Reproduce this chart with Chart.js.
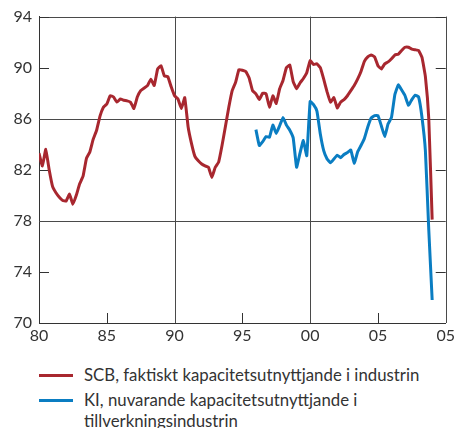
<!DOCTYPE html>
<html>
<head>
<meta charset="utf-8">
<script src="https://cdn.jsdelivr.net/npm/chart.js@4/dist/chart.umd.min.js"></script>
<style>
  html, body { margin: 0; padding: 0; background: #fff; }
  #wrap { position: relative; width: 458px; height: 428px; overflow: hidden; font-family: Lato, "Open Sans", sans-serif; color: #333; }
  #chart { position: absolute; left: 0; top: 0; }
  .sw { position: absolute; left: 39px; width: 34px; height: 3px; }
  .lbl { position: absolute; left: 84px; font-size: 16.8px; line-height: 21px; white-space: nowrap; }
</style>
</head>
<body>
<div id="wrap">
  <canvas id="chart" width="458" height="345"></canvas>
  <div id="legend"></div>
</div>
<script>
// Quarterly capacity utilisation, first quarter of each series given by its start year
const scbStart = 1980;
const scbValues = [
  83.3, 82.3, 83.6, 82.0,
  80.7, 80.2, 79.85, 79.6,
  79.55, 80.1, 79.3, 80.0,
  80.9, 81.5, 82.9, 83.4,
  84.4, 85.1, 86.2, 86.9,
  87.15, 87.8, 87.7, 87.3,
  87.55, 87.45, 87.4, 87.3,
  86.8, 87.7, 88.2, 88.4,
  88.6, 89.1, 88.6, 89.9,
  90.15, 89.35, 89.3, 88.5,
  87.8, 87.55, 86.8, 87.65,
  85.35, 84.05, 83.05, 82.7,
  82.45, 82.3, 82.2, 81.4,
  82.2, 82.6, 83.9, 85.4,
  86.9, 88.2, 88.85, 89.85,
  89.8, 89.7, 89.2, 88.2,
  87.95, 87.5, 88.0, 87.95,
  86.9, 87.8, 87.2, 88.35,
  89.0, 90.0, 90.2, 88.9,
  88.35, 88.8, 89.15, 89.6,
  90.55, 90.25, 90.3, 90.0,
  89.1, 88.1, 87.3, 87.65,
  86.85, 87.3, 87.5, 87.8,
  88.2, 88.6, 89.1, 89.7,
  90.5, 90.85, 91.0, 90.85,
  90.15, 89.9, 90.3, 90.45,
  90.7, 91.0, 91.05, 91.35,
  91.6, 91.6, 91.45, 91.4,
  91.35, 90.8, 89.3, 86.0,
  78.1
];

const kiStart = 1996;
const kiValues = [
  85.15, 83.9, 84.2, 84.6,
  84.55, 85.5, 84.85, 85.45,
  86.1, 85.5, 85.1, 84.5,
  82.2, 83.3, 84.3, 83.1,
  87.35, 87.1, 86.6, 84.8,
  83.5, 82.85, 82.55, 82.85,
  83.15, 82.95, 83.2, 83.35,
  83.55, 82.5, 83.4, 83.9,
  84.45, 85.35, 86.05, 86.25,
  86.25, 85.45, 84.6, 85.6,
  86.1, 87.9, 88.65, 88.25,
  87.8, 87.05, 87.5, 87.85,
  87.7, 86.1, 83.5, 77.3,
  71.8
];

const seriesNames = [
  ['SCB, faktiskt kapacitetsutnyttjande i industrin'],
  ['KI, nuvarande kapacitetsutnyttjande i', 'tillverkningsindustrin']
];
const seriesColors = ['#a8272f', '#0a7dc2'];

const xTickLabels = ['80', '85', '90', '95', '00', '05', '05'];
const yMin = 70, yMax = 94, yStep = 4;
const xMin = 1980, xMax = 2010, xStep = 5;
const majorY = [78, 86];
const majorX = [1990, 2000];

function quarterly(start, values) {
  return values.map((v, i) => ({ x: start + i / 4, y: v }));
}

const axisColor = '#333';
const gridColor = '#4a4a4a';

// Frame, full-width reference lines and inward tick marks
const framePlugin = {
  id: 'frame',
  beforeDatasetsDraw(chart) {
    const { ctx, chartArea: a, scales } = chart;
    const xs = scales.x, ys = scales.y;
    const px = v => Math.round(v) + 0.5;
    ctx.save();
    ctx.lineWidth = 1;
    ctx.strokeStyle = gridColor;
    ctx.beginPath();
    majorY.forEach(v => { const y = px(ys.getPixelForValue(v)); ctx.moveTo(a.left, y); ctx.lineTo(a.right, y); });
    majorX.forEach(v => { const x = px(xs.getPixelForValue(v)); ctx.moveTo(x, a.top); ctx.lineTo(x, a.bottom); });
    // top and right border
    ctx.moveTo(a.left, px(a.top)); ctx.lineTo(a.right, px(a.top));
    ctx.moveTo(px(a.right), a.top); ctx.lineTo(px(a.right), a.bottom);
    ctx.stroke();

    ctx.strokeStyle = axisColor;
    ctx.beginPath();
    const tl = 10;
    ys.ticks.forEach(t => {
      if (majorY.includes(t.value)) return;
      const y = px(ys.getPixelForValue(t.value));
      ctx.moveTo(a.left, y); ctx.lineTo(a.left + tl, y);
      ctx.moveTo(a.right, y); ctx.lineTo(a.right - tl, y);
    });
    xs.ticks.forEach(t => {
      if (majorX.includes(t.value) || t.value === xMin || t.value === xMax) return;
      const x = px(xs.getPixelForValue(t.value));
      ctx.moveTo(x, a.bottom); ctx.lineTo(x, a.bottom - tl);
    });
    ctx.stroke();
    ctx.restore();
  }
};

const tickFont = { family: 'Lato, "Open Sans", sans-serif', size: 16 };

new Chart(document.getElementById('chart'), {
  type: 'line',
  data: {
    datasets: [
      { label: seriesNames[0].join(' '), data: quarterly(scbStart, scbValues), borderColor: seriesColors[0] },
      { label: seriesNames[1].join(' '), data: quarterly(kiStart, kiValues), borderColor: seriesColors[1] }
    ]
  },
  options: {
    responsive: false,
    animation: false,
    devicePixelRatio: 1,
    layout: { autoPadding: false, padding: { left: 0, right: 6, top: 16, bottom: 0 } },
    elements: {
      point: { radius: 0 },
      line: { borderWidth: 3, tension: 0.1, borderJoinStyle: 'round', borderCapStyle: 'butt', fill: false }
    },
    plugins: { legend: { display: false }, tooltip: { enabled: false } },
    scales: {
      x: {
        type: 'linear',
        min: xMin, max: xMax,
        afterFit(scale) { scale.height = 22; },
        afterBuildTicks(scale) {
          const t = [];
          for (let v = xMin; v <= xMax; v += xStep) t.push({ value: v });
          scale.ticks = t;
        },
        ticks: {
          autoSkip: false, maxRotation: 0, padding: 3,
          color: '#333', font: tickFont,
          callback: (v, i) => xTickLabels[i]
        },
        grid: { display: false, drawTicks: false },
        border: { display: true, color: axisColor, width: 1 }
      },
      y: {
        type: 'linear',
        min: yMin, max: yMax,
        afterFit(scale) { scale.width = 39; },
        ticks: { stepSize: yStep, padding: 7, color: '#333', font: tickFont },
        grid: { display: false, drawTicks: false },
        border: { display: true, color: axisColor, width: 1 }
      }
    }
  },
  plugins: [framePlugin]
});

// Legend below the chart
const legend = document.getElementById('legend');
const legendTops = [364, 389];
seriesNames.forEach((lines, i) => {
  const sw = document.createElement('div');
  sw.className = 'sw';
  sw.style.background = seriesColors[i];
  sw.style.top = (legendTops[i] + 9.5) + 'px';
  legend.appendChild(sw);
  const lbl = document.createElement('div');
  lbl.className = 'lbl';
  lbl.style.top = legendTops[i] + 'px';
  lines.forEach((ln, j) => {
    if (j) lbl.appendChild(document.createElement('br'));
    lbl.appendChild(document.createTextNode(ln));
  });
  legend.appendChild(lbl);
});
</script>
</body>
</html>
